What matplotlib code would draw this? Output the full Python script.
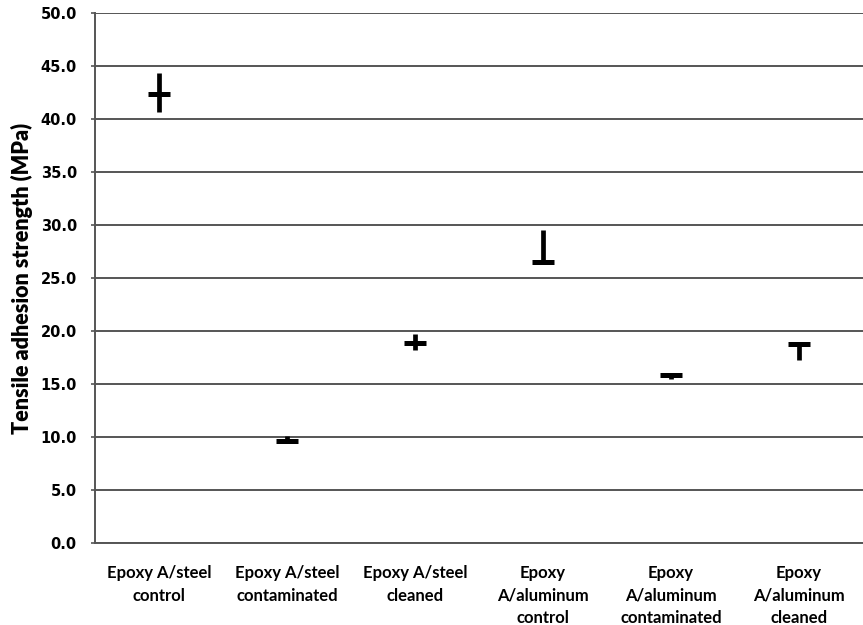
import numpy as np
import matplotlib.pyplot as plt

# data (MPa)
categories = ['Epoxy A/steel\ncontrol', 'Epoxy A/steel\ncontaminated', 'Epoxy A/steel\ncleaned',
              'Epoxy\nA/aluminum\ncontrol', 'Epoxy\nA/aluminum\ncontaminated', 'Epoxy\nA/aluminum\ncleaned']
high = [44.3, 10.05, 19.7, 29.5, 15.9, 18.85]
low = [40.7, 9.6, 18.2, 26.4, 15.45, 17.25]
mean = [42.4, 9.65, 18.9, 26.5, 15.85, 18.75]

x = np.arange(len(categories))

fig = plt.figure(figsize=(8.63, 6.25), dpi=100)
ax = fig.add_axes([0.110, 0.1312, 0.890, 0.848])

# grid
ax.set_ylim(0, 50)
ax.set_xlim(-0.5, len(categories) - 0.5)
ax.set_yticks(np.arange(0, 50.1, 5))
ax.yaxis.grid(True, color='#555555', linewidth=1.4)
ax.set_axisbelow(True)

# high-low lines and mean dashes
ax.vlines(x, low, high, color='black', linewidth=3.4)
ax.plot(x, mean, linestyle='none', marker='_', markersize=16, markeredgewidth=3.6, color='black')

for s in ['top', 'right']:
    ax.spines[s].set_visible(False)
for s in ['left', 'bottom']:
    ax.spines[s].set_color('#555555')
    ax.spines[s].set_linewidth(1.4)

ax.set_yticklabels(['%.1f' % v for v in np.arange(0, 50.1, 5)], fontsize=10.5, fontweight='bold',
                   family='DejaVu Sans')
ax.tick_params(axis='y', length=3, width=1.2, color='#555555', pad=10)
ax.set_xticks(x)
ax.set_xticklabels(categories, fontsize=12, fontweight='bold', family='Lato', linespacing=1.5)
ax.tick_params(axis='x', length=0, pad=16)

ax.set_ylabel('Tensile adhesion strength (MPa)', fontsize=15.5, fontweight='heavy', family='Lato')
ax.yaxis.set_label_coords(-0.081, 0.5)

plt.savefig('out.png', dpi=100)
